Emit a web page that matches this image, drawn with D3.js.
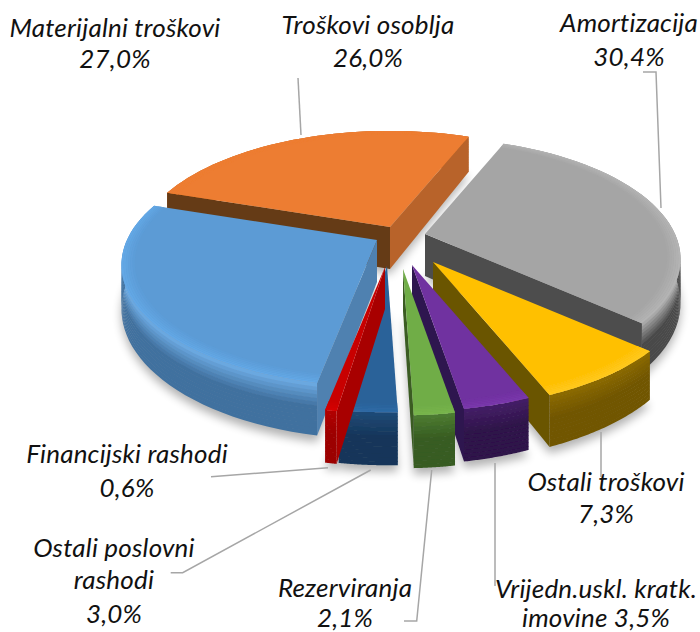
<!DOCTYPE html>
<html><head><meta charset="utf-8">
<script src="https://cdn.jsdelivr.net/npm/d3@7/dist/d3.min.js"></script>
<style>html,body{margin:0;background:#fff;overflow:hidden}svg{display:block}text{font-family:Lato,sans-serif;font-style:italic;font-size:26px;letter-spacing:.2px;fill:#111;text-anchor:middle}</style>
</head><body><svg id="c" width="700" height="632"></svg>
<script>
const categories=["Amortizacija","Ostali troškovi","Vrijedn.uskl. kratk. imovine","Rezerviranja","Ostali poslovni rashodi","Financijski rashodi","Materijalni troškovi","Troškovi osoblja"];
const values=[30.4,7.3,3.5,2.1,3.0,0.6,27.0,26.0];
const explodeDx=[25,33,12,3,-13,-15,-23,-10];
const explodeDy=[-6,22,25,29,26,27,0,-13];
const topColors=["#a5a5a5","#ffc000","#7030a0","#70ad47","#2a6299","#c80000","#5b9bd5","#ed7d31"];
const rimColors=["#b4b4b4","#ffc91f","#7a38ac","#78b54d","#2f6ba6","#d60000","#64a8e6","#ed7d31"];
const wallTop=["#a8a8a8","#8a6900","#431e66","#4b7a30","#1f4a76","#b00000","#6aa8e0","#b8642a"];
const wallBottom=["#4a4a4a","#715600","#2e1249","#375c22","#15365a","#9c0000","#41719f","#b8642a"];
const cutStart=["#9a9a9a","#7f6000","#3a1a5a","#3f6628","#23517f","#a80000","#4f81b0","#653a12"];
const cutEnd=["#4d4d4d","#6b5400","#2f1450","#3a5c24","#1f4a78","#a00000","#4f81b0","#b8642a"];
const labels=[
 {t:["Materijalni troškovi","27,0%"],x:115,y:[37,68]},
 {t:["Troškovi osoblja","26,0%"],x:368,y:[34,67]},
 {t:["Amortizacija","30,4%"],x:629,y:[32,66]},
 {t:["Ostali troškovi","7,3%"],x:606,y:[491,523]},
 {t:["Vrijedn.uskl. kratk.","imovine 3,5%"],x:596,y:[598,627]},
 {t:["Rezerviranja","2,1%"],x:345,y:[597,627]},
 {t:["Ostali poslovni","rashodi","3,0%"],x:114,y:[557,589,623]},
 {t:["Financijski rashodi","0,6%"],x:127,y:[463,497]}];
const leaders=[
 [[298,78],[301,135]],
 [[643,72],[656,72],[661,208]],
 [[601,432],[601,477]],
 [[495,463],[495,586]],
 [[431.7,470],[416.7,621],[404,621]],
 [[370.7,470],[182.7,572.7],[170.7,572.7]],
 [[328,467.7],[211,476.7]]];

const cx=400,cy=240,R=250,K=116,persp=0.207,depth=42,rot=22*Math.PI/180;
const svg=d3.select("#c");
const defs=svg.append("defs");
defs.append("filter").attr("id","shadow").attr("x","-20%").attr("y","-20%").attr("width","140%").attr("height","140%")
 .append("feGaussianBlur").attr("stdDeviation",5);
defs.append("filter").attr("id","soft").append("feGaussianBlur").attr("stdDeviation",0.6);

const arcs=d3.pie().sort(null).value(d=>d).startAngle(rot).endAngle(rot+2*Math.PI)(values);
function proj(i,a,r,z){
  const X=R*r*Math.sin(a),Y=-r*Math.cos(a),s=1/(1-persp*Y);
  return [cx+explodeDx[i]+X*s, cy+explodeDy[i]+K*Y*s+z*depth*s];
}
const line=d3.line();
function arcPts(i,a0,a1,r,z){
  return d3.range(0,41).map(k=>proj(i,a0+(a1-a0)*k/40,r,z));
}
const order=[7,0,6,1,2,3,4,5];

const sh=svg.append("g").attr("filter","url(#shadow)").attr("opacity",.3);
arcs.forEach((d,i)=>{
  const p=arcPts(i,d.startAngle,d.endAngle,1,1.12);p.push(proj(i,0,0,1.12));
  sh.append("path").attr("d",line(p)+"Z").attr("fill","#000");
});
const lg=svg.append("g");
leaders.forEach(l=>lg.append("path").attr("d",line(l)).attr("fill","none").attr("stroke","#a6a6a6").attr("stroke-width",1.5));

order.forEach(i=>{
  const d=arcs[i],a0=d.startAngle,a1=d.endAngle,g=svg.append("g").attr("filter","url(#soft)");
  const n=14,col=d3.interpolateLab(wallTop[i],wallBottom[i]);
  for(let k=0;k<n;k++){
    const z0=k/n,z1=(k+1.15)/n;
    const t=k/(n-1),eased=Math.min(1,t*2.2);
    const pts=arcPts(i,a0,a1,1,Math.min(z1,1)).concat(arcPts(i,a0,a1,1,z0).reverse());
    g.append("path").attr("d",line(pts)+"Z").attr("fill",col(eased));
  }
  [[a0,cutStart[i]],[a1,cutEnd[i]]].forEach(([a,c],j)=>{
    const q=[proj(i,0,0,0),proj(i,a,1,0),proj(i,a,1,1),proj(i,0,0,1)];
    const s=d3.polygonArea(q)*(j===0?1:-1);
    if(s>0) g.append("path").attr("d",line(q)+"Z").attr("fill",c);
  });
  const top=arcPts(i,a0,a1,1,0);top.push(proj(i,0,0,0));
  g.append("path").attr("d",line(top)+"Z").attr("fill",topColors[i]);
  const m=6,rc=d3.interpolateLab(topColors[i],rimColors[i]);
  for(let k=0;k<m;k++){
    const r0=0.95+0.05*k/m,r1=0.95+0.05*(k+1)/m;
    const pts=arcPts(i,a0,a1,r1,0).concat(arcPts(i,a0,a1,r0,0).reverse());
    g.append("path").attr("d",line(pts)+"Z").attr("fill",rc((k+1)/m));
  }
});
labels.forEach(l=>l.t.forEach((s,k)=>svg.append("text").attr("x",l.x).attr("y",l.y[k]).text(s)));
</script></body></html>
